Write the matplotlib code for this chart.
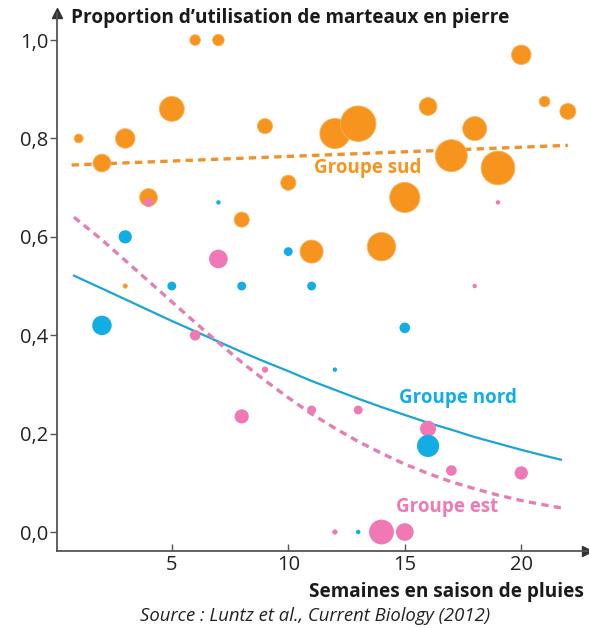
import numpy as np
import matplotlib.pyplot as plt

# Couleurs des groupes
orange = '#F7941D'
bleu = '#12ADE4'
rose = '#EF78B5'

# Groupe sud : semaines, proportion, taille (nb d'observations, unité arbitraire)
sud_x = [1, 2, 3, 4, 5, 6, 7, 8, 9, 10, 11, 12, 13, 14, 15, 16, 17, 18, 19, 20, 21, 22, 3]
sud_y = [0.80, 0.75, 0.80, 0.68, 0.86, 1.00, 1.00, 0.635, 0.825, 0.71, 0.57, 0.81, 0.83,
         0.58, 0.68, 0.865, 0.765, 0.82, 0.74, 0.97, 0.875, 0.855, 0.50]
sud_n = [5, 10, 11, 10, 14, 6, 6.5, 8.5, 8.5, 8.5, 13, 17, 20, 16, 17, 10, 18, 13.5, 19, 11, 6, 9, 2.5]

# Groupe nord
nord_x = [3, 7, 10, 11, 5, 8, 2, 12, 15, 16, 13]
nord_y = [0.60, 0.67, 0.57, 0.50, 0.50, 0.50, 0.42, 0.33, 0.415, 0.175, 0.0]
nord_n = [7.5, 2.5, 5, 5, 5, 5, 11, 2.5, 6, 12.5, 2.5]

# Groupe est
est_x = [4, 7, 6, 9, 8, 11, 13, 16, 17, 20, 19, 18, 12, 14, 15]
est_y = [0.67, 0.555, 0.40, 0.33, 0.235, 0.248, 0.248, 0.21, 0.125, 0.12, 0.67, 0.50, 0.0, 0.0, 0.0]
est_n = [5, 10.5, 6, 3.5, 8, 5, 5, 9, 6, 7.5, 2.5, 2.5, 3, 14, 10]

# Courbes de tendance
sud_fit_x = [0.7, 22.0]
sud_fit_y = [0.746, 0.786]
fit_x = [0.8, 2, 3, 4, 5, 6, 7, 8, 9, 10, 11, 12, 13, 14, 15, 16, 17, 18, 19, 20, 21, 21.7]
nord_fit_y = [0.521, 0.495, 0.473, 0.451, 0.429, 0.408, 0.387, 0.366, 0.346, 0.327, 0.307,
              0.289, 0.271, 0.254, 0.238, 0.222, 0.208, 0.193, 0.180, 0.167, 0.155, 0.147]
est_fit_y = [0.640, 0.594, 0.552, 0.510, 0.468, 0.426, 0.385, 0.345, 0.308, 0.273, 0.240,
             0.211, 0.184, 0.160, 0.138, 0.119, 0.102, 0.088, 0.075, 0.064, 0.055, 0.049]

yticks = [0.0, 0.2, 0.4, 0.6, 0.8, 1.0]
xticks = [5, 10, 15, 20]

plt.rcParams['font.family'] = ['Open Sans', 'DejaVu Sans']

fig = plt.figure(figsize=(5.89, 6.28), dpi=100)
ax = fig.add_axes([56.5 / 589, 77 / 628, 530 / 589, 538 / 628])

def aire(n):
    # rayon en pixels -> aire en points^2 (dpi 100)
    return (np.array(n) * 0.72) ** 2 * 3.14

# Points
ax.scatter(sud_x, sud_y, s=aire(sud_n), color=orange, edgecolors='#F9B15A', linewidths=0.6, zorder=3)
ax.scatter(est_x, est_y, s=aire(est_n), color=rose, edgecolors='none', zorder=4)
ax.scatter(nord_x, nord_y, s=aire(nord_n), color=bleu, edgecolors='none', zorder=5)

# Tendances
ax.plot(sud_fit_x, sud_fit_y, color='#F0922A', lw=2.4, ls=(0, (2.2, 1.6)), zorder=2)
ax.plot(fit_x, nord_fit_y, color='#1BA5D3', lw=1.6, zorder=2)
ax.plot(fit_x, est_fit_y, color='#E47FB4', lw=2.4, ls=(0, (2.2, 1.6)), zorder=2)

# Étiquettes des groupes
ax.text(13.4, 0.74, 'Groupe sud', color=orange, fontsize=13.5, fontweight='bold', ha='center', va='center')
ax.text(17.3, 0.272, 'Groupe nord', color=bleu, fontsize=13.5, fontweight='bold', ha='center', va='center')
ax.text(16.8, 0.05, 'Groupe est', color=rose, fontsize=13.5, fontweight='bold', ha='center', va='center')

ax.set_xlim(0.05, 22.8)
ax.set_ylim(-0.0386, 1.055)
ax.set_xticks(xticks)
ax.set_xticklabels([str(t) for t in xticks])
ax.set_yticks(yticks)
ax.set_yticklabels([f'{t:.1f}'.replace('.', ',') for t in yticks])

for s in ['top', 'right']:
    ax.spines[s].set_visible(False)
for s in ['left', 'bottom']:
    ax.spines[s].set_color('#555555')
    ax.spines[s].set_linewidth(1.3)
ax.tick_params(axis='y', direction='out', length=5, width=1, color='#555555', labelsize=14.5, pad=1)
ax.tick_params(axis='x', direction='in', length=5, width=1, color='#555555', labelsize=14.5, pad=3)
for lab in ax.get_xticklabels() + ax.get_yticklabels():
    lab.set_color('#222222')

# Flèches des axes
ax.plot(1, 0, '>', color='#333333', ms=7, transform=ax.transAxes, clip_on=False)
ax.plot(0, 1, '^', color='#333333', ms=7, transform=ax.transAxes, clip_on=False)

fig.text(71 / 589, 1 - 18 / 628, 'Proportion d\u2019utilisation de marteaux en pierre',
         fontsize=13.7, fontweight='bold', ha='left', va='center', color='#1a1a1a')
fig.text(584 / 589, 1 - 592 / 628, 'Semaines en saison de pluies',
         fontsize=13.7, fontweight='bold', ha='right', va='center', color='#1a1a1a')
fig.text(315 / 589, 1 - 616 / 628, 'Source : Luntz et al., Current Biology (2012)',
         fontsize=13.3, style='italic', ha='center', va='center', color='#222222')

fig.savefig('out.png', dpi=100)
